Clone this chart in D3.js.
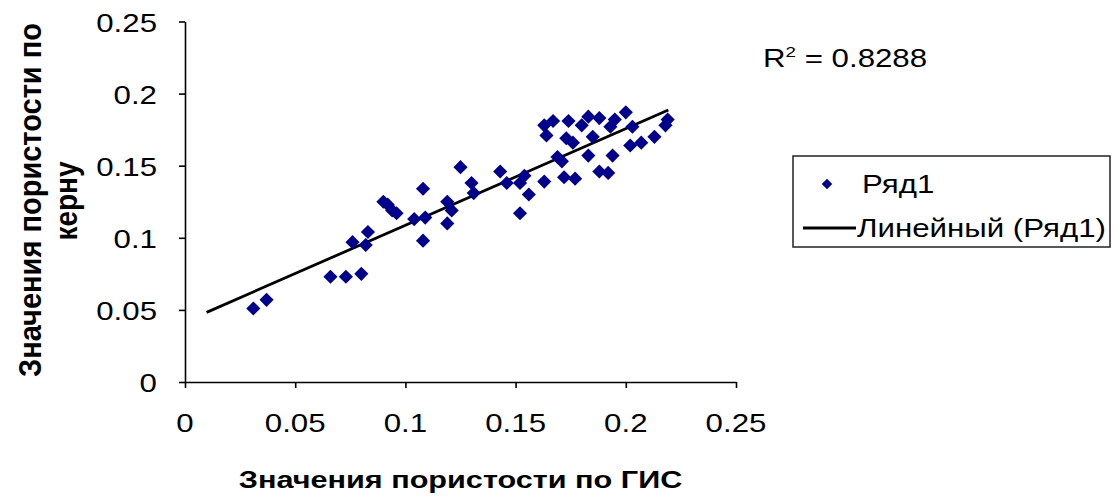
<!DOCTYPE html>
<html><head><meta charset="utf-8">
<script src="https://cdn.jsdelivr.net/npm/d3@7/dist/d3.min.js"></script>
<style>
html,body{margin:0;padding:0;background:#fff;}
svg{display:block;font-family:"Liberation Sans",Arial,sans-serif;}
</style></head>
<body>
<svg id="chart" width="1116" height="497"></svg>
<script>
// ---- data ----
const gisValues  = [0.031,0.037,0.066,0.073,0.080,0.076,0.082,0.083,0.090,0.092,0.094,0.096,0.104,0.108,0.109,0.108,0.119,0.121,0.119,0.125,0.130,0.131,0.143,0.146,0.152,0.154,0.156,0.152,0.163,0.169,0.171,0.172,0.177,0.183,0.188,0.192,0.194,0.163,0.167,0.164,0.174,0.173,0.176,0.180,0.183,0.185,0.188,0.193,0.195,0.200,0.203,0.202,0.207,0.213,0.219,0.218];
const coreValues = [0.051,0.057,0.073,0.073,0.075,0.097,0.095,0.104,0.125,0.123,0.119,0.117,0.113,0.134,0.114,0.098,0.125,0.119,0.110,0.149,0.138,0.131,0.146,0.138,0.138,0.143,0.130,0.117,0.139,0.156,0.153,0.142,0.141,0.157,0.146,0.145,0.157,0.178,0.181,0.171,0.181,0.169,0.166,0.178,0.184,0.170,0.183,0.177,0.182,0.187,0.177,0.164,0.166,0.170,0.182,0.178];
const trendX = [0.0098, 0.2193];
const trendY = [0.0483, 0.1886];
const xTicks = [0, 0.05, 0.1, 0.15, 0.2, 0.25];
const yTicks = [0, 0.05, 0.1, 0.15, 0.2, 0.25];
const xTickLabels = ["0","0.05","0.1","0.15","0.2","0.25"];
const yTickLabels = ["0","0.05","0.1","0.15","0.2","0.25"];
const seriesName = "Ряд1";
const trendName = "Линейный (Ряд1)";
const r2Text = "0.8288";
const xTitle = "Значения пористости по ГИС";
const yTitleLines = ["Значения пористости по", "керну"];

// ---- layout ----
const svg = d3.select("#chart");
const SX = 1.25; // horizontal stretch of text in the reference
const FS = 25;
const x = d3.scaleLinear().domain([0, 0.25]).range([185, 736]);
const y = d3.scaleLinear().domain([0, 0.25]).range([382, 21.5]);
const navy = "#00008b";

// axes
const xAxis = d3.axisBottom(x).tickValues(xTicks).tickSize(6).tickSizeOuter(0).tickFormat("");
const yAxis = d3.axisLeft(y).tickValues(yTicks).tickSize(6).tickSizeOuter(0).tickFormat("");
const gx = svg.append("g").attr("transform","translate(0,382)").call(xAxis);
const gy = svg.append("g").attr("transform","translate(185,0)").call(yAxis);
[gx, gy].forEach(g => {
  g.selectAll("path,line").attr("stroke","#000").attr("stroke-width",1.6);
});

function stretchedText(parent, tx, ty, str, anchor, size, weight){
  return parent.append("text")
    .attr("transform", `translate(${tx},${ty}) scale(${SX},1)`)
    .attr("text-anchor", anchor)
    .attr("font-size", size)
    .attr("font-weight", weight || "normal")
    .attr("fill","#000")
    .text(str);
}

// tick labels
xTicks.forEach((v,i) => stretchedText(svg, x(v), 432, xTickLabels[i], "middle", FS));
yTicks.forEach((v,i) => stretchedText(svg, 157, y(v) + 10, yTickLabels[i], "end", FS));

// axis titles
stretchedText(svg, (x(0)+x(0.25))/2, 488, xTitle, "middle", 24.5, "bold");
svg.append("text")
  .attr("transform", `translate(41,200) scale(${SX},1) rotate(-90)`)
  .attr("text-anchor","middle").attr("font-size",24.5).attr("font-weight","bold").attr("fill","#000")
  .attr("textLength", 354).attr("lengthAdjust","spacingAndGlyphs")
  .text(yTitleLines[0]);
svg.append("text")
  .attr("transform", `translate(77,201) scale(${SX},1) rotate(-90)`)
  .attr("text-anchor","middle").attr("font-size",24.5).attr("font-weight","bold").attr("fill","#000")
  .attr("textLength", 79).attr("lengthAdjust","spacingAndGlyphs")
  .text(yTitleLines[1]);

// trend line
svg.append("line")
  .attr("x1", x(trendX[0])).attr("y1", y(trendY[0]))
  .attr("x2", x(trendX[1])).attr("y2", y(trendY[1]))
  .attr("stroke","#000").attr("stroke-width",2.8);

// points
const diamond = d3.symbol().type(d3.symbolSquare).size(100);
const pts = gisValues.map((v,i) => [v, coreValues[i]]);
svg.append("g").selectAll("path").data(pts).join("path")
  .attr("d", diamond)
  .attr("transform", d => `translate(${x(d[0])},${y(d[1])}) rotate(45)`)
  .attr("fill", navy);

// R^2 label
const r2 = svg.append("text")
  .attr("transform", `translate(763,67) scale(${SX},1)`)
  .attr("font-size",FS).attr("fill","#000");
r2.append("tspan").text("R");
r2.append("tspan").attr("font-size",15).attr("dy",-10).text("2");
r2.append("tspan").attr("dy",10).text(" = " + r2Text);

// legend
const lg = svg.append("g");
lg.append("rect").attr("x",793).attr("y",156).attr("width",317).attr("height",91)
  .attr("fill","#fff").attr("stroke","#222").attr("stroke-width",1.5);
lg.append("path").attr("d", d3.symbol().type(d3.symbolSquare).size(55))
  .attr("transform","translate(827,184) rotate(45)").attr("fill",navy);
stretchedText(lg, 862, 193, seriesName, "start", FS);
lg.append("line").attr("x1",803).attr("x2",856).attr("y1",228).attr("y2",228)
  .attr("stroke","#000").attr("stroke-width",2.8);
stretchedText(lg, 857, 237, trendName, "start", FS);
</script>
</body></html>
